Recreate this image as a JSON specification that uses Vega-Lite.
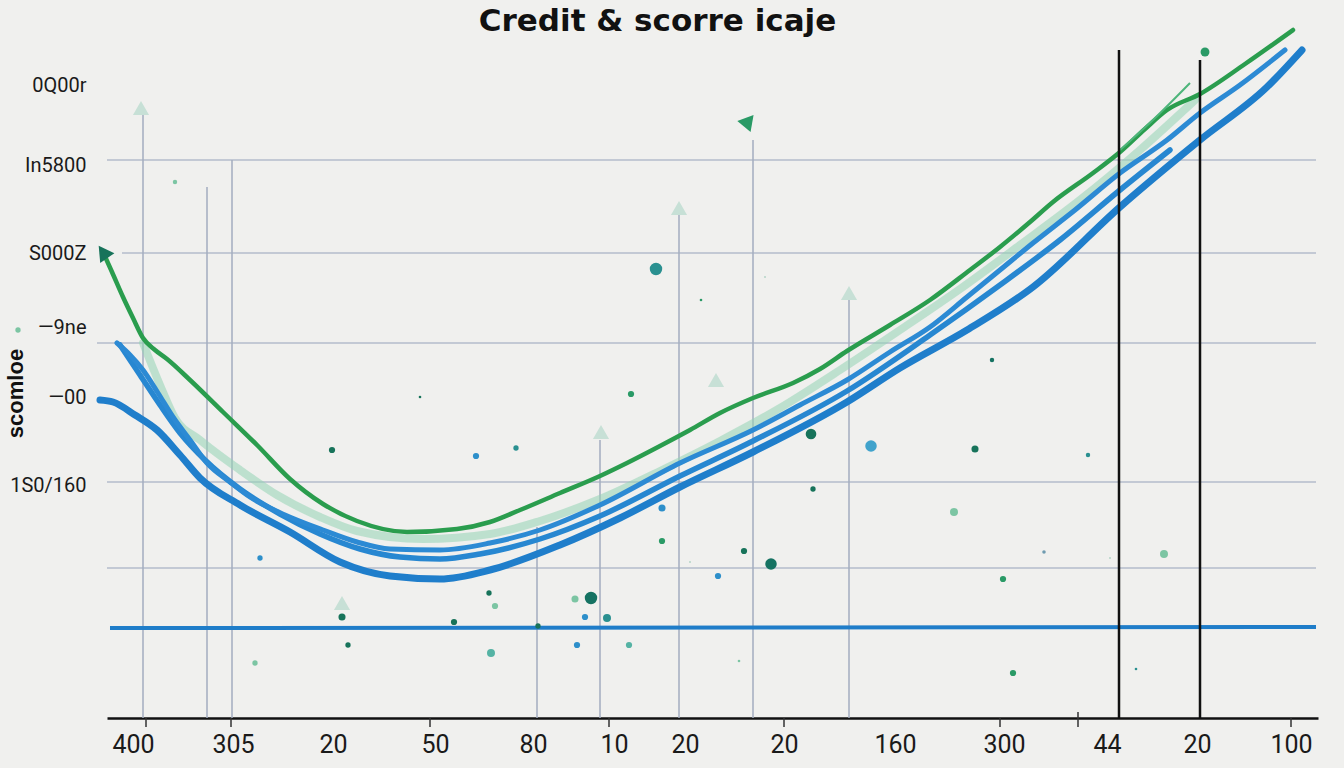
{
  "$schema": "https://vega.github.io/schema/vega-lite/v6.json",
  "width": 1211,
  "height": 668,
  "autosize": {"type": "none"},
  "padding": {"left": 107, "top": 50, "right": 26, "bottom": 50},
  "background": "#f0f0ee",
  "config": {"view": {"stroke": null}},
  "title": {"text": "Credit & scorre icaje", "anchor": "middle", "frame": "group", "dx": -55, "offset": -17, "fontSize": 31, "font": "DejaVu Sans", "fontWeight": "bold", "color": "#111111"},
  "datasets": {
    "hgrid": [
      {"x": 7.4, "x2": 128.3, "y": 55.8},
      {"x": 8.9, "x2": 128.3, "y": 46.5},
      {"x": 6.4, "x2": 128.3, "y": 37.5},
      {"x": 7.4, "x2": 128.3, "y": 23.6},
      {"x": 7.4, "x2": 128.3, "y": 15.0}
    ],
    "vgrid": [
      {"x": 11.0, "y": 61.0, "y2": 0},
      {"x": 17.4, "y": 53.1, "y2": 0},
      {"x": 19.9, "y": 55.8, "y2": 0},
      {"x": 50.4, "y": 19.1, "y2": 0},
      {"x": 56.7, "y": 27.8, "y2": 0},
      {"x": 64.6, "y": 50.3, "y2": 0},
      {"x": 72.0, "y": 57.8, "y2": 0},
      {"x": 81.6, "y": 41.8, "y2": 0}
    ],
    "black": [
      {"x": 108.6, "y": 66.8, "y2": 0},
      {"x": 116.7, "y": 65.8, "y2": 0}
    ],
    "ticks": [
      {"x": 11.3, "y": 0, "y2": -0.9},
      {"x": 19.8, "y": 0, "y2": -0.9},
      {"x": 39.7, "y": 0, "y2": -0.9},
      {"x": 57.6, "y": 0, "y2": -0.9},
      {"x": 75.1, "y": 0, "y2": -0.9},
      {"x": 96.7, "y": 0, "y2": -0.9},
      {"x": 104.5, "y": 0.6, "y2": -0.9},
      {"x": 125.8, "y": 0, "y2": -0.9}
    ],
    "baseline": [
      {"x": 7.7, "y": 9.0},
      {"x": 128.3, "y": 9.1}
    ],
    "curves": [
      {"s": "G1", "x": 7.0, "y": 46.6}, {"s": "G1", "x": 7.9, "y": 44.6}, {"s": "G1", "x": 9.0, "y": 42.1}, {"s": "G1", "x": 10.0, "y": 40.0},
      {"s": "G1", "x": 11.0, "y": 38.0}, {"s": "G1", "x": 12.2, "y": 36.8}, {"s": "G1", "x": 13.4, "y": 35.9}, {"s": "G1", "x": 15.7, "y": 33.8},
      {"s": "G1", "x": 19.0, "y": 30.6}, {"s": "G1", "x": 22.4, "y": 27.3}, {"s": "G1", "x": 25.7, "y": 23.9}, {"s": "G1", "x": 29.0, "y": 21.4},
      {"s": "G1", "x": 32.4, "y": 19.7}, {"s": "G1", "x": 37.4, "y": 18.6}, {"s": "G1", "x": 42.4, "y": 18.9}, {"s": "G1", "x": 45.7, "y": 19.6},
      {"s": "G1", "x": 48.7, "y": 20.8}, {"s": "G1", "x": 52.7, "y": 22.5}, {"s": "G1", "x": 56.7, "y": 24.2}, {"s": "G1", "x": 59.4, "y": 25.5},
      {"s": "G1", "x": 62.7, "y": 27.2}, {"s": "G1", "x": 65.7, "y": 28.8}, {"s": "G1", "x": 68.7, "y": 30.5}, {"s": "G1", "x": 72.0, "y": 32.0},
      {"s": "G1", "x": 76.0, "y": 33.5}, {"s": "G1", "x": 78.7, "y": 34.9}, {"s": "G1", "x": 81.4, "y": 36.7}, {"s": "G1", "x": 85.7, "y": 39.3},
      {"s": "G1", "x": 89.7, "y": 41.8}, {"s": "G1", "x": 93.7, "y": 44.8}, {"s": "G1", "x": 96.7, "y": 47.1}, {"s": "G1", "x": 99.7, "y": 49.6},
      {"s": "G1", "x": 102.0, "y": 51.6}, {"s": "G1", "x": 106.0, "y": 54.5}, {"s": "G1", "x": 108.7, "y": 56.6}, {"s": "G1", "x": 111.2, "y": 58.9},
      {"s": "G1", "x": 113.4, "y": 60.8}, {"s": "G1", "x": 116.7, "y": 62.4}, {"s": "G1", "x": 121.2, "y": 65.4}, {"s": "G1", "x": 126.0, "y": 68.8},

      {"s": "G2", "x": 11.0, "y": 37.5}, {"s": "G2", "x": 12.7, "y": 33.3}, {"s": "G2", "x": 14.2, "y": 30.0}, {"s": "G2", "x": 16.7, "y": 27.8},
      {"s": "G2", "x": 20.7, "y": 24.8}, {"s": "G2", "x": 24.4, "y": 22.3}, {"s": "G2", "x": 28.7, "y": 20.1}, {"s": "G2", "x": 32.4, "y": 18.7},
      {"s": "G2", "x": 39.0, "y": 17.9}, {"s": "G2", "x": 45.7, "y": 18.4}, {"s": "G2", "x": 50.7, "y": 19.7}, {"s": "G2", "x": 56.7, "y": 21.9},
      {"s": "G2", "x": 62.7, "y": 24.7}, {"s": "G2", "x": 68.7, "y": 27.7}, {"s": "G2", "x": 74.7, "y": 31.0}, {"s": "G2", "x": 80.7, "y": 34.8},
      {"s": "G2", "x": 86.7, "y": 38.8}, {"s": "G2", "x": 92.7, "y": 42.9}, {"s": "G2", "x": 98.7, "y": 47.3}, {"s": "G2", "x": 104.7, "y": 51.8},
      {"s": "G2", "x": 110.7, "y": 56.8}, {"s": "G2", "x": 116.2, "y": 61.8},

      {"s": "G3", "x": 108.7, "y": 56.8}, {"s": "G3", "x": 112.2, "y": 60.0}, {"s": "G3", "x": 115.7, "y": 63.5},

      {"s": "B1", "x": 8.4, "y": 37.5}, {"s": "B1", "x": 9.7, "y": 36.3}, {"s": "B1", "x": 11.0, "y": 34.8}, {"s": "B1", "x": 12.5, "y": 32.5},
      {"s": "B1", "x": 14.0, "y": 30.1}, {"s": "B1", "x": 15.7, "y": 27.8}, {"s": "B1", "x": 17.4, "y": 25.5}, {"s": "B1", "x": 19.7, "y": 23.6},
      {"s": "B1", "x": 21.7, "y": 22.1}, {"s": "B1", "x": 25.2, "y": 20.3}, {"s": "B1", "x": 29.0, "y": 18.8}, {"s": "B1", "x": 32.4, "y": 17.6},
      {"s": "B1", "x": 35.7, "y": 16.9}, {"s": "B1", "x": 40.7, "y": 16.8}, {"s": "B1", "x": 45.7, "y": 17.5}, {"s": "B1", "x": 50.7, "y": 18.8},
      {"s": "B1", "x": 56.7, "y": 21.3}, {"s": "B1", "x": 64.7, "y": 25.5}, {"s": "B1", "x": 72.0, "y": 28.8}, {"s": "B1", "x": 76.7, "y": 31.3},
      {"s": "B1", "x": 81.4, "y": 33.8}, {"s": "B1", "x": 85.7, "y": 36.6}, {"s": "B1", "x": 89.7, "y": 39.1}, {"s": "B1", "x": 93.4, "y": 42.1},
      {"s": "B1", "x": 96.7, "y": 44.8}, {"s": "B1", "x": 100.0, "y": 47.5}, {"s": "B1", "x": 104.2, "y": 50.8}, {"s": "B1", "x": 108.7, "y": 54.5},
      {"s": "B1", "x": 113.4, "y": 57.8}, {"s": "B1", "x": 116.7, "y": 60.5}, {"s": "B1", "x": 120.7, "y": 63.3}, {"s": "B1", "x": 125.2, "y": 66.8},

      {"s": "B2", "x": 8.7, "y": 37.3}, {"s": "B2", "x": 10.7, "y": 34.3}, {"s": "B2", "x": 12.7, "y": 31.3}, {"s": "B2", "x": 14.7, "y": 28.5},
      {"s": "B2", "x": 17.2, "y": 25.8}, {"s": "B2", "x": 20.7, "y": 22.9}, {"s": "B2", "x": 24.7, "y": 20.4}, {"s": "B2", "x": 28.7, "y": 18.4},
      {"s": "B2", "x": 32.7, "y": 16.9}, {"s": "B2", "x": 36.7, "y": 16.1}, {"s": "B2", "x": 40.7, "y": 15.9}, {"s": "B2", "x": 44.7, "y": 16.4},
      {"s": "B2", "x": 50.7, "y": 17.9}, {"s": "B2", "x": 56.7, "y": 20.2}, {"s": "B2", "x": 64.7, "y": 24.2}, {"s": "B2", "x": 72.0, "y": 27.7},
      {"s": "B2", "x": 81.4, "y": 32.7}, {"s": "B2", "x": 89.7, "y": 38.3}, {"s": "B2", "x": 96.7, "y": 43.3}, {"s": "B2", "x": 102.7, "y": 47.8},
      {"s": "B2", "x": 108.7, "y": 52.8}, {"s": "B2", "x": 113.7, "y": 56.8},

      {"s": "B3", "x": 6.7, "y": 31.8}, {"s": "B3", "x": 8.0, "y": 31.6}, {"s": "B3", "x": 10.2, "y": 30.3}, {"s": "B3", "x": 12.4, "y": 28.8},
      {"s": "B3", "x": 14.7, "y": 26.3}, {"s": "B3", "x": 16.7, "y": 24.0}, {"s": "B3", "x": 20.7, "y": 21.3}, {"s": "B3", "x": 25.7, "y": 18.6},
      {"s": "B3", "x": 30.7, "y": 15.6}, {"s": "B3", "x": 35.7, "y": 14.2}, {"s": "B3", "x": 40.7, "y": 13.9}, {"s": "B3", "x": 45.7, "y": 14.8},
      {"s": "B3", "x": 52.7, "y": 17.3}, {"s": "B3", "x": 58.7, "y": 20.0}, {"s": "B3", "x": 64.7, "y": 23.1}, {"s": "B3", "x": 72.0, "y": 26.6},
      {"s": "B3", "x": 81.4, "y": 31.6}, {"s": "B3", "x": 86.7, "y": 35.0}, {"s": "B3", "x": 93.4, "y": 38.8}, {"s": "B3", "x": 100.0, "y": 43.1},
      {"s": "B3", "x": 108.7, "y": 51.1}, {"s": "B3", "x": 116.7, "y": 57.8}, {"s": "B3", "x": 123.4, "y": 63.1}, {"s": "B3", "x": 126.9, "y": 66.8}
    ],
    "dots": [
      {"x": 14.2, "y": 53.6, "m": 2.5, "tone": "mint"},
      {"x": 62.3, "y": 44.9, "m": 7, "tone": "teal"},
      {"x": 66.8, "y": 41.8, "m": 1.5, "tone": "green"},
      {"x": 73.2, "y": 44.1, "m": 1.2, "tone": "pale"},
      {"x": -1.5, "y": 38.8, "m": 3, "tone": "mint"},
      {"x": 59.8, "y": 32.4, "m": 3.5, "tone": "green"},
      {"x": 38.7, "y": 32.1, "m": 1.5, "tone": "dark"},
      {"x": 29.9, "y": 26.8, "m": 3.5, "tone": "dark"},
      {"x": 44.3, "y": 26.2, "m": 3.5, "tone": "blue"},
      {"x": 48.3, "y": 27.0, "m": 3, "tone": "teal"},
      {"x": 77.8, "y": 28.4, "m": 6, "tone": "dark"},
      {"x": 83.8, "y": 27.2, "m": 6.5, "tone": "lblue"},
      {"x": 94.2, "y": 26.9, "m": 4, "tone": "dark"},
      {"x": 95.9, "y": 35.8, "m": 2.5, "tone": "dteal"},
      {"x": 105.5, "y": 26.3, "m": 2.5, "tone": "teal"},
      {"x": 78.0, "y": 22.9, "m": 3, "tone": "dark"},
      {"x": 62.9, "y": 21.0, "m": 4, "tone": "blue"},
      {"x": 62.9, "y": 17.7, "m": 3.5, "tone": "green"},
      {"x": 71.1, "y": 16.7, "m": 3.5, "tone": "dark"},
      {"x": 73.8, "y": 15.4, "m": 6.5, "tone": "dteal"},
      {"x": 65.7, "y": 15.6, "m": 1.2, "tone": "pale"},
      {"x": 92.1, "y": 20.6, "m": 4.5, "tone": "mint"},
      {"x": 101.1, "y": 16.6, "m": 2, "tone": "slate"},
      {"x": 107.7, "y": 16.0, "m": 1.2, "tone": "pale"},
      {"x": 113.1, "y": 16.4, "m": 4.5, "tone": "mint"},
      {"x": 97.0, "y": 13.9, "m": 3.5, "tone": "green"},
      {"x": 68.5, "y": 14.2, "m": 3.5, "tone": "blue"},
      {"x": 22.7, "y": 16.0, "m": 3, "tone": "blue"},
      {"x": 45.6, "y": 12.5, "m": 3, "tone": "dark"},
      {"x": 46.2, "y": 11.2, "m": 3.5, "tone": "mint"},
      {"x": 30.9, "y": 10.1, "m": 4, "tone": "dark"},
      {"x": 42.1, "y": 9.6, "m": 3.5, "tone": "dark"},
      {"x": 50.5, "y": 9.2, "m": 3, "tone": "dark"},
      {"x": 54.2, "y": 11.9, "m": 4, "tone": "mint"},
      {"x": 55.8, "y": 12.0, "m": 7, "tone": "dteal"},
      {"x": 55.2, "y": 10.1, "m": 3.5, "tone": "blue"},
      {"x": 57.4, "y": 10.0, "m": 4.5, "tone": "teal"},
      {"x": 31.5, "y": 7.3, "m": 3, "tone": "dark"},
      {"x": 45.8, "y": 6.5, "m": 4.5, "tone": "lteal"},
      {"x": 54.4, "y": 7.3, "m": 3.5, "tone": "blue"},
      {"x": 59.6, "y": 7.3, "m": 3.5, "tone": "lteal"},
      {"x": 22.2, "y": 5.5, "m": 3, "tone": "mint"},
      {"x": 70.6, "y": 5.7, "m": 1.5, "tone": "mint"},
      {"x": 98.0, "y": 4.5, "m": 3.5, "tone": "green"},
      {"x": 110.3, "y": 4.9, "m": 1.5, "tone": "teal"},
      {"x": 117.2, "y": 66.6, "m": 5, "tone": "green"}
    ],
    "arrows": [
      {"x": 10.8, "y": 61.0, "kind": "pale"},
      {"x": 64.6, "y": 51.0, "kind": "pale"},
      {"x": 81.6, "y": 42.5, "kind": "pale"},
      {"x": 56.8, "y": 28.6, "kind": "pale"},
      {"x": 30.9, "y": 11.5, "kind": "pale"},
      {"x": 68.3, "y": 33.8, "kind": "pale"}
    ],
    "flags": [
      {"x": 7.0, "y": 46.6, "kind": "main"},
      {"x": 71.5, "y": 59.3, "kind": "soft"}
    ]
  },
  "encoding": {
    "x": {
      "field": "x", "type": "quantitative",
      "scale": {"domain": [7.4, 128.5], "nice": false, "zero": false},
      "axis": {
        "title": null, "grid": false, "ticks": false, "tickSize": 0,
        "domainColor": "#111111", "domainWidth": 2.5,
        "values": [10, 20, 30, 40.2, 50, 58.1, 65.2, 75.1, 86.2, 97.1, 107.4, 116.4, 125.8],
        "labelExpr": "datum.value < 15 ? '400' : datum.value < 25 ? '305' : datum.value < 35 ? '20' : datum.value < 45 ? '50' : datum.value < 54 ? '80' : datum.value < 61 ? '10' : datum.value < 70 ? '20' : datum.value < 80 ? '20' : datum.value < 91 ? '160' : datum.value < 102 ? '300' : datum.value < 112 ? '44' : datum.value < 121 ? '20' : '100'",
        "labelFont": "Roboto", "labelFontSize": 25, "labelColor": "#1a1a1a",
        "labelPadding": 14, "labelFlush": false, "labelOverlap": false, "labelBound": false
      }
    },
    "y": {
      "field": "y", "type": "quantitative",
      "scale": {"domain": [0, 66.8], "nice": false, "zero": false},
      "axis": {
        "title": "scomloe", "titleAngle": -90, "titleX": -92, "titleY": 343,
        "titleAlign": "center", "titleBaseline": "middle", "titleFontSize": 22,
        "titleFont": "Liberation Sans", "titleFontWeight": "bold", "titleColor": "#111111",
        "grid": false, "ticks": false, "tickSize": 0, "domain": false,
        "values": [63.3, 55.3, 46.5, 39.1, 32.1, 23.3],
        "labelExpr": "datum.value > 60 ? '0Q00r' : datum.value > 50 ? 'In5800' : datum.value > 43 ? 'S000Z' : datum.value > 36 ? '—9ne' : datum.value > 28 ? '—00' : '1S0/160'",
        "labelFont": "Roboto", "labelFontSize": 20, "labelColor": "#1a1a1a",
        "labelPadding": 21, "labelAlign": "right", "labelBaseline": "middle", "labelOverlap": false, "labelBound": false, "labelFlush": false
      }
    }
  },
  "layer": [
    {
      "data": {"name": "hgrid"},
      "mark": {"type": "rule", "color": "#b4bccb", "strokeWidth": 1.5},
      "encoding": {"x2": {"field": "x2"}}
    },
    {
      "data": {"name": "vgrid"},
      "mark": {"type": "rule", "color": "#a3adbf", "strokeWidth": 1.5},
      "encoding": {"y2": {"field": "y2"}}
    },
    {
      "data": {"name": "ticks"},
      "mark": {"type": "rule", "color": "#333333", "strokeWidth": 1.5},
      "encoding": {"y2": {"field": "y2"}}
    },
    {
      "data": {"name": "baseline"},
      "mark": {"type": "line", "color": "#1f7dc9", "strokeWidth": 4},
      "encoding": {}
    },
    {
      "data": {"name": "curves"},
      "transform": [{"filter": "datum.s == 'G2'"}],
      "mark": {"type": "line", "color": "#93d3b5", "strokeWidth": 8, "opacity": 0.55, "interpolate": "monotone", "strokeCap": "round"},
      "encoding": {}
    },
    {
      "data": {"name": "curves"},
      "transform": [{"filter": "datum.s == 'B3'"}],
      "mark": {"type": "line", "color": "#1f7ecb", "strokeWidth": 7, "interpolate": "monotone", "strokeCap": "round"},
      "encoding": {}
    },
    {
      "data": {"name": "curves"},
      "transform": [{"filter": "datum.s == 'B2'"}],
      "mark": {"type": "line", "color": "#2787d1", "strokeWidth": 5.5, "interpolate": "monotone", "strokeCap": "round"},
      "encoding": {}
    },
    {
      "data": {"name": "curves"},
      "transform": [{"filter": "datum.s == 'B1'"}],
      "mark": {"type": "line", "color": "#2c8ad4", "strokeWidth": 5, "interpolate": "monotone", "strokeCap": "round"},
      "encoding": {}
    },
    {
      "data": {"name": "curves"},
      "transform": [{"filter": "datum.s == 'G1'"}],
      "mark": {"type": "line", "color": "#2a9d4e", "strokeWidth": 4.5, "interpolate": "monotone", "strokeCap": "round"},
      "encoding": {}
    },
    {
      "data": {"name": "curves"},
      "transform": [{"filter": "datum.s == 'G3'"}],
      "mark": {"type": "line", "color": "#4db57a", "strokeWidth": 2, "interpolate": "monotone"},
      "encoding": {}
    },
    {
      "data": {"name": "black"},
      "mark": {"type": "rule", "color": "#111111", "strokeWidth": 2.5},
      "encoding": {"y2": {"field": "y2"}}
    },
    {
      "data": {"name": "dots"},
      "mark": {"type": "circle", "opacity": 1},
      "encoding": {
        "size": {"field": "m", "type": "quantitative", "scale": {"type": "pow", "exponent": 2, "domain": [0, 7], "range": [0, 154]}, "legend": null},
        "color": {"field": "tone", "type": "nominal", "legend": null,
          "scale": {"domain": ["dark", "green", "mint", "teal", "blue", "lblue", "pale", "dteal", "slate", "lteal"],
                    "range": ["#17735a", "#2a9a66", "#7cc5a3", "#2a9090", "#2d8fca", "#41a3cc", "#b9d6ca", "#157262", "#6f9bb0", "#55b3a4"]}}
      }
    },
    {
      "data": {"name": "arrows"},
      "mark": {"type": "point", "shape": "triangle-up", "filled": true, "size": 260, "color": "#c7e0d6", "opacity": 1},
      "encoding": {}
    },
    {
      "data": {"name": "flags"},
      "mark": {"type": "point", "shape": "triangle-up", "filled": true, "size": 300, "opacity": 1},
      "encoding": {
        "color": {"field": "kind", "type": "nominal", "legend": null, "scale": {"domain": ["main", "soft"], "range": ["#2a9d4e", "#5ab386"]}},
        "angle": {"field": "kind", "type": "nominal", "legend": null, "scale": {"domain": ["main", "soft"], "range": [-35, 160]}}
      }
    }
  ]
}
